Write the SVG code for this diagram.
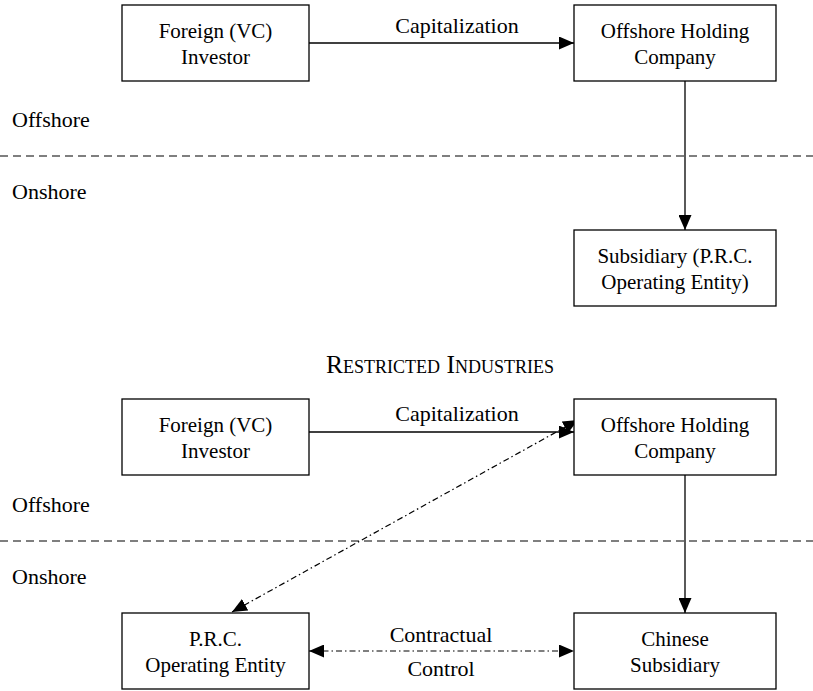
<svg xmlns="http://www.w3.org/2000/svg" width="813" height="691" viewBox="0 0 813 691">
<defs>
<marker id="ah" viewBox="0 0 15 13" refX="15" refY="6.5" markerWidth="15" markerHeight="13" markerUnits="userSpaceOnUse" orient="auto-start-reverse">
<path d="M0,0 L15,6.5 L0,13 z" fill="#000"/>
</marker>
<style>
.box{fill:#fff;stroke:#000;stroke-width:1.3}
.t{font-family:"Liberation Serif","Times New Roman",serif;font-size:21px;fill:#000;text-anchor:middle}
.c{font-family:"Liberation Serif","Times New Roman",serif;font-size:22px;fill:#000;text-anchor:middle}
.l{font-family:"Liberation Serif","Times New Roman",serif;font-size:22px;fill:#000}
.ln{stroke:#000;stroke-width:1.3;fill:none}
.dash{stroke:#555;stroke-width:1.3;stroke-dasharray:8,5}
.dd{stroke:#000;stroke-width:1.2;fill:none;stroke-dasharray:6,3,1.5,3}
</style>
</defs>
<rect width="813" height="691" fill="#fff"/>
<g id="boundaries">
<line class="dash" x1="0" y1="156" x2="813" y2="156"/>
<line class="dash" x1="0" y1="541" x2="813" y2="541"/>
<text class="l" x="12" y="127">Offshore</text>
<text class="l" x="12" y="199">Onshore</text>
<text class="l" x="12" y="512">Offshore</text>
<text class="l" x="12" y="584">Onshore</text>
<text class="c" x="440" y="373" style="font-variant:small-caps;font-size:25.5px">Restricted Industries</text>
</g>
<g id="connectors">
<line class="ln" x1="309" y1="43" x2="574" y2="43" marker-end="url(#ah)"/>
<text class="c" x="457" y="33">Capitalization</text>
<line class="ln" x1="685" y1="81" x2="685" y2="230" marker-end="url(#ah)"/>
<line class="ln" x1="309" y1="432" x2="574" y2="432" marker-end="url(#ah)"/>
<text class="c" x="457" y="421">Capitalization</text>
<line class="ln" x1="685" y1="475" x2="685" y2="613" marker-end="url(#ah)"/>
<line class="dd" x1="232" y1="612" x2="578" y2="420" marker-start="url(#ah)" marker-end="url(#ah)"/>
<line class="dd" x1="309" y1="651" x2="574" y2="651" marker-start="url(#ah)" marker-end="url(#ah)"/>
<text class="c" x="441" y="642">Contractual</text>
<text class="c" x="441" y="676">Control</text>
</g>
<g id="foreign-top">
<rect class="box" x="122" y="5" width="187" height="76"/>
<text class="t" x="215.5" y="38">Foreign (VC)</text>
<text class="t" x="215.5" y="64">Investor</text>
</g>
<g id="offshore-top">
<rect class="box" x="574" y="5" width="202" height="76"/>
<text class="t" x="675" y="38">Offshore Holding</text>
<text class="t" x="675" y="64">Company</text>
</g>
<g id="subsidiary-top">
<rect class="box" x="574" y="230" width="202" height="76"/>
<text class="t" x="675" y="263">Subsidiary (P.R.C.</text>
<text class="t" x="675" y="289">Operating Entity)</text>
</g>
<g id="foreign-bottom">
<rect class="box" x="122" y="399" width="187" height="76"/>
<text class="t" x="215.5" y="432">Foreign (VC)</text>
<text class="t" x="215.5" y="458">Investor</text>
</g>
<g id="offshore-bottom">
<rect class="box" x="574" y="399" width="202" height="76"/>
<text class="t" x="675" y="432">Offshore Holding</text>
<text class="t" x="675" y="458">Company</text>
</g>
<g id="prc-entity">
<rect class="box" x="122" y="613" width="187" height="76"/>
<text class="t" x="215.5" y="646">P.R.C.</text>
<text class="t" x="215.5" y="672">Operating Entity</text>
</g>
<g id="chinese-subsidiary">
<rect class="box" x="574" y="613" width="202" height="76"/>
<text class="t" x="675" y="646">Chinese</text>
<text class="t" x="675" y="672">Subsidiary</text>
</g>
</svg>
